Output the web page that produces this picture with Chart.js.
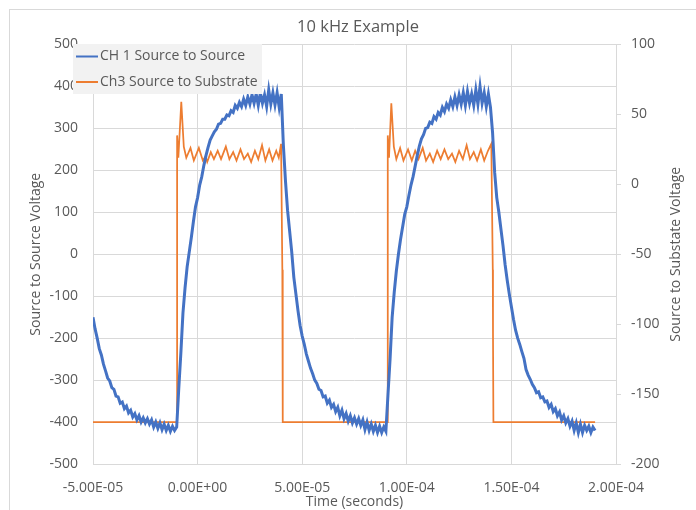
<!DOCTYPE html>
<html>
<head>
<meta charset="utf-8">
<script src="https://cdn.jsdelivr.net/npm/chart.js@4.4.1/dist/chart.umd.min.js"></script>
<style>
  html, body { margin: 0; padding: 0; background: #ffffff; }
  #wrap { position: relative; width: 696px; height: 510px; overflow: hidden; }
  #wrap canvas { position: absolute; left: 0; top: 0; }
  #frame { position: absolute; left: 9px; top: 9px; width: 900px; height: 700px;
           border: 1px solid #d9d9d9; box-sizing: border-box; pointer-events: none; }
</style>
</head>
<body>
<div id="wrap">
  <canvas id="scope" width="696" height="510"></canvas>
  <div id="frame"></div>
</div>
<script>
// Oscilloscope capture, time in microseconds
const chartTitle = '10 kHz Example';
const seriesNames = ['CH 1 Source to Source', 'Ch3 Source to Substrate'];
const xTickLabels = ['-5.00E-05', '0.00E+00', '5.00E-05', '1.00E-04', '1.50E-04', '2.00E-04'];

// CH1: source-to-source voltage (left axis), 1 us samples
const ch1Times = [
  -50, -49, -48, -47, -46, -45, -44, -43, -42, -41,
  -40, -39, -38, -37, -36, -35, -34, -33, -32, -31,
  -30, -29, -28, -27, -26, -25, -24, -23, -22, -21,
  -20, -19, -18, -17, -16, -15, -14, -13, -12, -11,
  -10, -9, -8, -7, -6, -5, -4, -3, -2, -1,
  0, 1, 2, 3, 4, 5, 6, 7, 8, 9,
  10, 11, 12, 13, 14, 15, 16, 17, 18, 19,
  20, 21, 22, 23, 24, 25, 26, 27, 28, 29,
  30, 31, 32, 33, 34, 35, 36, 37, 38, 39,
  40, 41, 42, 43, 44, 45, 46, 47, 48, 49,
  50, 51, 52, 53, 54, 55, 56, 57, 58, 59,
  60, 61, 62, 63, 64, 65, 66, 67, 68, 69,
  70, 71, 72, 73, 74, 75, 76, 77, 78, 79,
  80, 81, 82, 83, 84, 85, 86, 87, 88, 89,
  90, 91, 92, 93, 94, 95, 96, 97, 98, 99,
  100, 101, 102, 103, 104, 105, 106, 107, 108, 109,
  110, 111, 112, 113, 114, 115, 116, 117, 118, 119,
  120, 121, 122, 123, 124, 125, 126, 127, 128, 129,
  130, 131, 132, 133, 134, 135, 136, 137, 138, 139,
  140, 141, 142, 143, 144, 145, 146, 147, 148, 149,
  150, 151, 152, 153, 154, 155, 156, 157, 158, 159,
  160, 161, 162, 163, 164, 165, 166, 167, 168, 169,
  170, 171, 172, 173, 174, 175, 176, 177, 178, 179,
  180, 181, 182, 183, 184, 185, 186, 187, 188, 189,
  190
];
const ch1Volts = [
  -150, -178, -200, -225, -240, -262, -278, -295, -302, -318,
  -322, -338, -340, -355, -352, -368, -362, -378, -372, -388,
  -380, -395, -385, -400, -390, -402, -392, -405, -395, -412,
  -400, -415, -402, -418, -405, -420, -408, -422, -410, -420,
  -412, -320, -235, -140, -80, -30, 5, 40, 78, 113,
  135, 165, 185, 212, 235, 255, 272, 282, 292, 298,
  310, 312, 322, 322, 332, 330, 342, 338, 355, 348,
  362, 352, 370, 355, 375, 358, 380, 360, 382, 355,
  385, 360, 380, 352, 392, 358, 385, 356, 385, 350,
  382, 260, 175, 105, 55, 5, -55, -95, -135, -170,
  -195, -215, -238, -255, -272, -285, -300, -308, -322, -325,
  -340, -338, -355, -348, -365, -358, -375, -365, -385, -372,
  -392, -380, -398, -385, -402, -390, -405, -392, -408, -395,
  -418, -400, -420, -405, -422, -408, -425, -410, -425, -412,
  -422, -335, -250, -150, -90, -40, 0, 35, 65, 95,
  113, 140, 165, 185, 210, 235, 258, 275, 285, 300,
  302, 315, 312, 328, 322, 338, 332, 350, 340, 358,
  348, 368, 352, 375, 355, 380, 358, 385, 355, 388,
  360, 382, 355, 392, 358, 400, 360, 385, 352, 382,
  350, 290, 195, 135, 100, 60, 20, -25, -62, -95,
  -125, -155, -181, -200, -215, -232, -248, -275, -288, -298,
  -310, -318, -330, -328, -342, -340, -352, -350, -365, -358,
  -375, -368, -385, -376, -395, -385, -402, -392, -410, -398,
  -420, -402, -425, -405, -425, -408, -420, -410, -425, -412,
  -420
];

// Ch3: source-to-substrate voltage (right axis)
const ch3Times = [
  -50, -9.8, -9.8, -9.2, -7.8, -6.6, -5.4, -3.4, -1.8, 0.6,
  2.5, 3.8, 4.6, 6.3, 7.8, 9.6, 11.2, 13.5, 15.2, 17,
  18.6, 20.5, 22.2, 24, 25.6, 27.4, 29, 30.8, 32.4, 34.2,
  35.8, 37.6, 38.8, 39.9, 40.5, 40.6, 40.8,
  90.9, 90.9, 91.5, 92.6, 93.8, 95, 96.8, 98.4, 100.6, 102.4,
  104, 105.6, 107.6, 109.2, 111, 112.6, 114.5, 116.2, 118, 119.8,
  121.6, 123.2, 125, 126.8, 128.6, 130.2, 132, 133.6, 135.4, 137,
  138.8, 140.4, 141.1, 141.2, 141.4, 190
];
const ch3Volts = [
  -170, -170, 35, 19, 59, 27, 19, 26, 17, 26,
  17, 20, 16, 23, 18, 24, 18, 27, 18, 23,
  17, 25, 18, 22, 16, 24, 18, 28, 17, 25,
  17, 24, 19, 29, -61, -104, -170,
  -170, 35, 19, 58, 27, 18, 26, 17, 25, 17,
  24, 18, 26, 17, 22, 16, 24, 18, 25, 18,
  22, 16, 24, 18, 28, 18, 23, 17, 25, 17,
  24, 29, -61, -106, -170, -170
];

const FONT = "'Open Sans', sans-serif";
const TEXT = '#595959';
const GRID = '#d9d9d9';
const BLUE = '#4472C4';
const ORANGE = '#ED7D31';

const toPoints = (xs, ys) => xs.map((x, i) => ({ x: x, y: ys[i] }));

// Title, right-hand axis title and the boxed legend
const decorations = {
  id: 'decorations',
  afterDraw(chart) {
    const ctx = chart.ctx;
    const area = chart.chartArea;
    ctx.save();
    ctx.fillStyle = TEXT;
    ctx.textAlign = 'center';
    ctx.textBaseline = 'middle';
    ctx.font = "16.5px " + FONT;
    ctx.fillText(chartTitle, 358, 27);

    ctx.font = "14px " + FONT;
    ctx.translate(676, (area.top + area.bottom) / 2);
    ctx.rotate(-Math.PI / 2);
    ctx.fillText('Source to Substate Voltage', 0, 0);
    ctx.restore();

    ctx.save();
    ctx.fillStyle = '#f2f2f2';
    ctx.fillRect(73, 44, 189, 50);
    const colors = [BLUE, ORANGE];
    const rows = [56.5, 82];
    ctx.font = "14px " + FONT;
    ctx.textAlign = 'left';
    ctx.textBaseline = 'middle';
    seriesNames.forEach((name, i) => {
      ctx.strokeStyle = colors[i];
      ctx.lineWidth = 2;
      ctx.beginPath();
      ctx.moveTo(76, rows[i]);
      ctx.lineTo(98, rows[i]);
      ctx.stroke();
      ctx.fillStyle = TEXT;
      ctx.fillText(name, 100, rows[i]);
    });
    ctx.restore();
  }
};

new Chart(document.getElementById('scope'), {
  type: 'line',
  data: {
    datasets: [
      {
        label: seriesNames[0],
        data: toPoints(ch1Times, ch1Volts),
        yAxisID: 'yLeft',
        borderColor: BLUE,
        borderWidth: 3,
        pointRadius: 0,
        tension: 0,
        fill: false
      },
      {
        label: seriesNames[1],
        data: toPoints(ch3Times, ch3Volts),
        yAxisID: 'yRight',
        borderColor: ORANGE,
        borderWidth: 1.75,
        pointRadius: 0,
        tension: 0,
        fill: false
      }
    ]
  },
  options: {
    responsive: false,
    animation: false,
    events: [],
    layout: { padding: { top: 44.5, left: 0, right: 0, bottom: 0 } },
    plugins: {
      legend: { display: false },
      title: { display: false },
      tooltip: { enabled: false }
    },
    scales: {
      x: {
        type: 'linear',
        min: -50,
        max: 200,
        ticks: {
          stepSize: 50,
          color: TEXT,
          padding: 15.5,
          font: { family: FONT, size: 14 },
          callback: (value, index) => xTickLabels[index]
        },
        grid: { color: GRID, drawTicks: false },
        border: { color: GRID },
        title: {
          display: true,
          text: 'Time (seconds)',
          color: TEXT,
          font: { family: FONT, size: 14 },
          padding: { top: 0, bottom: 0 }
        },
        afterFit: (scale) => { scale.height = 46; }
      },
      yLeft: {
        position: 'left',
        min: -500,
        max: 500,
        ticks: {
          stepSize: 100,
          color: TEXT,
          padding: 15,
          font: { family: FONT, size: 14 }
        },
        grid: { color: GRID, drawTicks: false },
        border: { display: false },
        title: {
          display: true,
          text: 'Source to Source Voltage',
          color: TEXT,
          font: { family: FONT, size: 14 },
          padding: { top: 27.6, bottom: 0 }
        },
        afterFit: (scale) => { scale.width = 93; }
      },
      yRight: {
        position: 'right',
        min: -200,
        max: 100,
        ticks: {
          stepSize: 50,
          color: TEXT,
          padding: 10,
          font: { family: FONT, size: 14 }
        },
        grid: { drawOnChartArea: false, drawTicks: true, tickLength: 5, color: GRID },
        border: { color: GRID },
        afterFit: (scale) => { scale.width = 80; }
      }
    }
  },
  plugins: [decorations]
});
</script>
</body>
</html>
